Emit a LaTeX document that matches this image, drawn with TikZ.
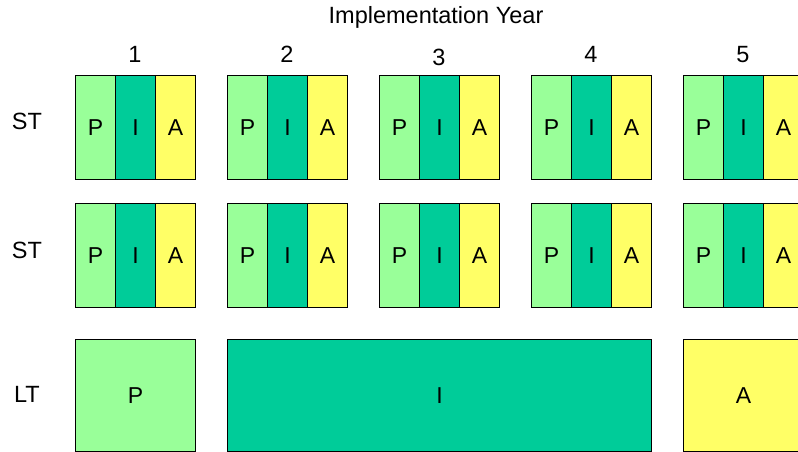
\documentclass[tikz,border=0pt]{standalone}
\usepackage{fontspec}
\setmainfont{Liberation Sans}
\definecolor{pcol}{HTML}{99FF99}
\definecolor{icol}{HTML}{00CC99}
\definecolor{acol}{HTML}{FFFF66}
\begin{document}
\begin{tikzpicture}[x=1pt,y=-1pt,
  cell/.style={draw=black,line width=1pt,minimum height=104pt,inner sep=0pt,font=\fontsize{23}{27}\selectfont,anchor=north west},
  pcell/.style={cell,fill=pcol,minimum width=40pt},
  icell/.style={cell,fill=icol,minimum width=40pt},
  acell/.style={cell,fill=acol,minimum width=40pt},
  lbl/.style={font=\fontsize{23.5}{27}\selectfont,inner sep=0pt}]
\useasboundingbox (0,0) rectangle (798,452);
\clip (0,0) rectangle (798,452);
\node[lbl] (title) at (436,17.5) {Implementation Year};
\foreach \i/\x/\yy in {1/75/54.5,2/227/54.5,3/379/57,4/531/54.5,5/683/54.5}{
  \node[lbl] (yr\i) at (\x+60,\yy) {\i};
  \foreach \r/\y in {1/75,2/203}{
    \node[pcell] (p\r\i) at (\x,\y) {P};
    \node[icell] (i\r\i) at (\x+40,\y) {I};
    \node[acell] (a\r\i) at (\x+80,\y) {A};
  }
}
\node[lbl] (st1) at (27,121.5) {ST};
\node[lbl] (st2) at (27,250) {ST};
\node[lbl] (lt) at (27,394.5) {LT};
\node[cell,fill=pcol,minimum width=120pt,minimum height=112pt] (ltp) at (75,339) {P};
\node[cell,fill=icol,minimum width=424pt,minimum height=112pt] (lti) at (227,339) {I};
\node[cell,fill=acol,minimum width=120pt,minimum height=112pt] (lta) at (683,339) {A};
\end{tikzpicture}
\end{document}
